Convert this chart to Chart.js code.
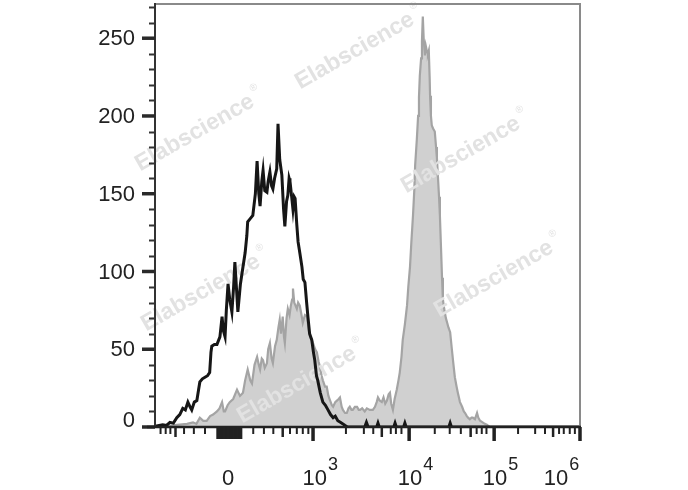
<!DOCTYPE html>
<html>
<head>
<meta charset="utf-8">
<script src="https://cdn.jsdelivr.net/npm/chart.js@4.4.0/dist/chart.umd.min.js"></script>
<style>
  html, body { margin: 0; padding: 0; background: #fff; }
  #wrap { width: 688px; height: 490px; position: relative; }
</style>
</head>
<body>
<div id="wrap"><canvas id="histChart"></canvas></div>
<script>
// axis ranges (channel units on x, event count on y)
const xRange = [5, 1000];
const yRange = [0, 272];

// isotype / unstained control (black outline)
const controlCurve = [
  [5, 0.5], [23, 1.5], [32, 1], [40, 3], [48, 2.5], [56, 6], [63, 8], [70, 12], [76, 11], [82, 16],
  [87, 13], [91, 11], [97, 16], [103, 17], [107, 24], [110, 29], [116, 31], [122, 32], [128, 33], [133, 35],
  [136, 48], [138, 52], [144, 53], [150, 53], [157, 58], [162, 71], [165, 62], [169, 58], [172, 75], [176, 92],
  [180, 82], [185, 74], [189, 90], [192, 106], [196, 88], [199, 74], [205, 92], [211, 103], [216, 112], [220, 123],
  [222, 132], [228, 134], [234, 136], [240, 150], [244, 171], [248, 150], [251, 142], [255, 158], [258, 165], [262, 152],
  [267, 151], [270, 158], [274, 164], [278, 155], [281, 153], [285, 160], [290, 166], [293, 195], [297, 172], [302, 162],
  [306, 140], [309, 129], [313, 145], [316, 149], [319, 160], [321, 158], [325, 148], [328, 140], [331, 148], [333, 147],
  [337, 130], [340, 119], [344, 112], [349, 103], [352, 95], [356, 93], [360, 80], [363, 71], [367, 60], [372, 56],
  [376, 48], [379, 43], [383, 33], [386, 30], [392, 22], [398, 16], [404, 14], [410, 11], [416, 8], [422, 6],
  [427, 7], [433, 4], [439, 3], [445, 2], [450, 1], [456, 0], [496, 0], [500, 3], [504, 0], [524, 0],
  [527, 2.5], [530, 0], [564, 0], [567, 2.5], [570, 0], [587, 0], [590, 2.5], [593, 0], [693, 0], [696, 2.5],
  [699, 0], [1000, 0],
];

// stained sample (grey filled)
const stainedCurve = [
  [5, 0], [28, 0], [45, 1], [63, 1.5], [80, 2], [94, 3], [102, 2], [110, 6], [118, 4], [126, 4],
  [134, 7], [141, 8], [150, 10], [156, 12], [162, 16], [166, 10], [169, 10], [175, 14], [180, 16], [188, 18],
  [197, 24], [204, 20], [211, 22], [216, 30], [222, 37], [228, 30], [232, 28], [238, 40], [244, 45], [248, 40],
  [251, 37], [255, 44], [258, 43], [262, 38], [267, 41], [270, 50], [274, 54], [278, 44], [281, 41], [286, 52],
  [290, 56], [294, 64], [297, 69], [300, 60], [304, 71], [307, 58], [309, 54], [313, 70], [316, 76], [320, 72],
  [323, 78], [326, 82], [328, 89], [331, 80], [334, 78], [337, 76], [340, 80], [344, 78], [348, 72], [351, 67],
  [356, 72], [361, 71], [365, 62], [368, 58], [372, 56], [375, 54], [380, 50], [384, 48], [388, 42], [391, 39],
  [395, 33], [398, 30], [403, 26], [407, 26], [411, 20], [415, 17], [419, 14], [422, 13], [427, 16], [431, 17],
  [435, 18], [438, 19], [442, 13], [445, 11], [450, 9], [454, 9], [458, 12], [461, 13], [465, 11], [468, 11],
  [473, 13], [478, 13], [482, 11], [485, 11], [490, 12], [496, 10], [501, 12], [508, 11], [515, 11], [520, 13],
  [524, 16], [527, 19], [531, 17], [536, 16], [540, 19], [544, 15], [548, 17], [552, 21], [555, 22], [558, 15],
  [562, 11], [566, 18], [571, 24], [575, 30], [578, 35], [582, 45], [585, 56], [590, 66], [595, 78], [598, 90],
  [602, 103], [605, 118], [609, 136], [612, 152], [614, 168], [618, 185], [621, 200], [623, 212], [625, 226], [628, 237],
  [630, 248], [632, 264], [634, 250], [637, 239], [639, 245], [642, 241], [644, 240], [646, 242], [648, 225], [649, 213],
  [651, 200], [653, 194], [656, 192], [660, 190], [663, 180], [665, 173], [668, 158], [670, 148], [672, 136], [675, 112],
  [677, 96], [679, 82], [682, 76], [686, 70], [689, 67], [692, 64], [696, 61], [700, 50], [703, 42], [707, 32],
  [711, 26], [714, 22], [719, 16], [724, 13], [728, 10], [731, 9], [735, 7], [738, 6], [742, 5], [746, 6],
  [749, 6], [754, 5], [759, 9], [762, 6], [766, 4], [772, 3], [777, 2], [782, 1.5], [789, 0], [1000, 0],
];

// y axis ticks
const yMajorTicks = [0, 50, 100, 150, 200, 250];
const yMinorTicks = [10, 20, 30, 40, 60, 70, 80, 90, 110, 120, 130, 140, 160, 170, 180, 190, 210, 220, 230, 240, 260, 270];

// x axis ticks (biexponential display, channel units)
const xMajorTicks = [375, 600, 799, 1000];
const xMidTicks = [53, 304, 536, 744, 937];
const xMinorTicks = [18, 30, 41, 73, 96, 122, 235, 260, 282, 321, 337, 351, 364, 452, 494, 516, 557, 569, 582,
  660, 695, 721, 758, 770, 781, 855, 895, 918, 951, 962, 976, 988];
const xZeroTicks = [152, 155, 158, 161, 164, 167, 170, 173, 176, 179, 182, 185, 188, 191, 194, 197, 200, 203, 206];
const xLabelPos = [176, 379, 602, 801, 944];
const xLabelBase = ['0', '10', '10', '10', '10'];
const xLabelExp = ['', '3', '4', '5', '6'];

const watermarkText = 'Elabscience';
const watermarkSpots = [[360, 48], [200, 130], [466, 152], [206, 290], [499, 276], [302, 382]];

const FONT = '"Liberation Sans", Arial, sans-serif';

const watermarkPlugin = {
  id: 'watermark',
  afterDatasetDraw(chart, args) {
    if (args.index !== 1) return;
    const { ctx } = chart;
    ctx.save();
    ctx.fillStyle = '#e2e2e2';
    watermarkSpots.forEach(([cx, cy]) => {
      ctx.save();
      ctx.translate(cx, cy);
      ctx.rotate(-0.52);
      ctx.font = `bold 23px ${FONT}`;
      ctx.textAlign = 'center';
      ctx.textBaseline = 'middle';
      ctx.fillText(watermarkText, -6, 0);
      const w = ctx.measureText(watermarkText).width;
      ctx.font = `10px ${FONT}`;
      ctx.fillText('®', w / 2 + 1, -10);
      ctx.restore();
    });
    ctx.restore();
  },
};

const axesPlugin = {
  id: 'flowAxes',
  afterDraw(chart) {
    const { ctx, chartArea, scales } = chart;
    const { left, right, top, bottom } = chartArea;
    const xs = scales.x;
    const ys = scales.y;
    ctx.save();
    // frame (top / right)
    ctx.strokeStyle = '#8a8a8a';
    ctx.lineWidth = 2;
    ctx.beginPath();
    ctx.moveTo(left, top);
    ctx.lineTo(right, top);
    ctx.lineTo(right, bottom);
    ctx.stroke();
    // y axis
    ctx.strokeStyle = '#333';
    ctx.lineWidth = 2;
    ctx.beginPath();
    ctx.moveTo(left, top - 1);
    ctx.lineTo(left, bottom + 1);
    ctx.stroke();
    yMinorTicks.forEach((v) => {
      const y = Math.round(ys.getPixelForValue(v)) + 0.5;
      ctx.beginPath();
      ctx.moveTo(left - 6, y);
      ctx.lineTo(left, y);
      ctx.stroke();
    });
    ctx.lineWidth = 3.5;
    ctx.strokeStyle = '#2a2a2a';
    yMajorTicks.forEach((v) => {
      const y = ys.getPixelForValue(v);
      ctx.beginPath();
      ctx.moveTo(left - 13, y);
      ctx.lineTo(left, y);
      ctx.stroke();
    });
    ctx.fillStyle = '#222';
    ctx.font = `22px ${FONT}`;
    ctx.textAlign = 'right';
    ctx.textBaseline = 'middle';
    yMajorTicks.forEach((v) => {
      const y = ys.getPixelForValue(v) + (v === 0 ? -6 : 1);
      ctx.fillText(String(v), left - 20, y);
    });
    // x axis
    ctx.strokeStyle = '#222';
    ctx.lineWidth = 2.5;
    ctx.beginPath();
    ctx.moveTo(left - 8, bottom);
    ctx.lineTo(right + 1, bottom);
    ctx.stroke();
    const drawXTicks = (list, len, width) => {
      ctx.lineWidth = width;
      list.forEach((v) => {
        const x = xs.getPixelForValue(v);
        ctx.beginPath();
        ctx.moveTo(x, bottom);
        ctx.lineTo(x, bottom + len);
        ctx.stroke();
      });
    };
    drawXTicks(xMinorTicks, 7, 2);
    drawXTicks(xMidTicks, 10, 2.5);
    drawXTicks(xZeroTicks, 12, 3);
    drawXTicks(xMajorTicks, 14, 3.5);
    ctx.fillStyle = '#222';
    ctx.textBaseline = 'alphabetic';
    xLabelPos.forEach((v, i) => {
      const x = xs.getPixelForValue(v);
      ctx.font = `22px ${FONT}`;
      ctx.textAlign = 'center';
      ctx.fillText(xLabelBase[i], x, 485);
      if (xLabelExp[i]) {
        const w = ctx.measureText(xLabelBase[i]).width;
        ctx.font = `18px ${FONT}`;
        ctx.textAlign = 'left';
        ctx.fillText(xLabelExp[i], x + w / 2 + 1, 470);
      }
    });
    ctx.restore();
  },
};

const toPoints = (arr) => arr.map(([x, y]) => ({ x, y }));

new Chart(document.getElementById('histChart'), {
  type: 'line',
  data: {
    datasets: [
      {
        label: 'Control',
        data: toPoints(controlCurve),
        borderColor: '#161616',
        borderWidth: 3,
        pointRadius: 0,
        tension: 0,
        fill: false,
      },
      {
        label: 'Stained',
        data: toPoints(stainedCurve),
        borderColor: '#a4a4a4',
        backgroundColor: '#d0d0d0',
        borderWidth: 2.2,
        pointRadius: 0,
        tension: 0,
        fill: 'origin',
      },
    ],
  },
  options: {
    responsive: true,
    maintainAspectRatio: false,
    animation: false,
    layout: { padding: { left: 155, right: 108, top: 4, bottom: 63 } },
    plugins: {
      legend: { display: false },
      tooltip: { enabled: false },
    },
    scales: {
      x: { type: 'linear', min: xRange[0], max: xRange[1], display: false },
      y: { type: 'linear', min: yRange[0], max: yRange[1], display: false },
    },
  },
  plugins: [watermarkPlugin, axesPlugin],
});
</script>
</body>
</html>
